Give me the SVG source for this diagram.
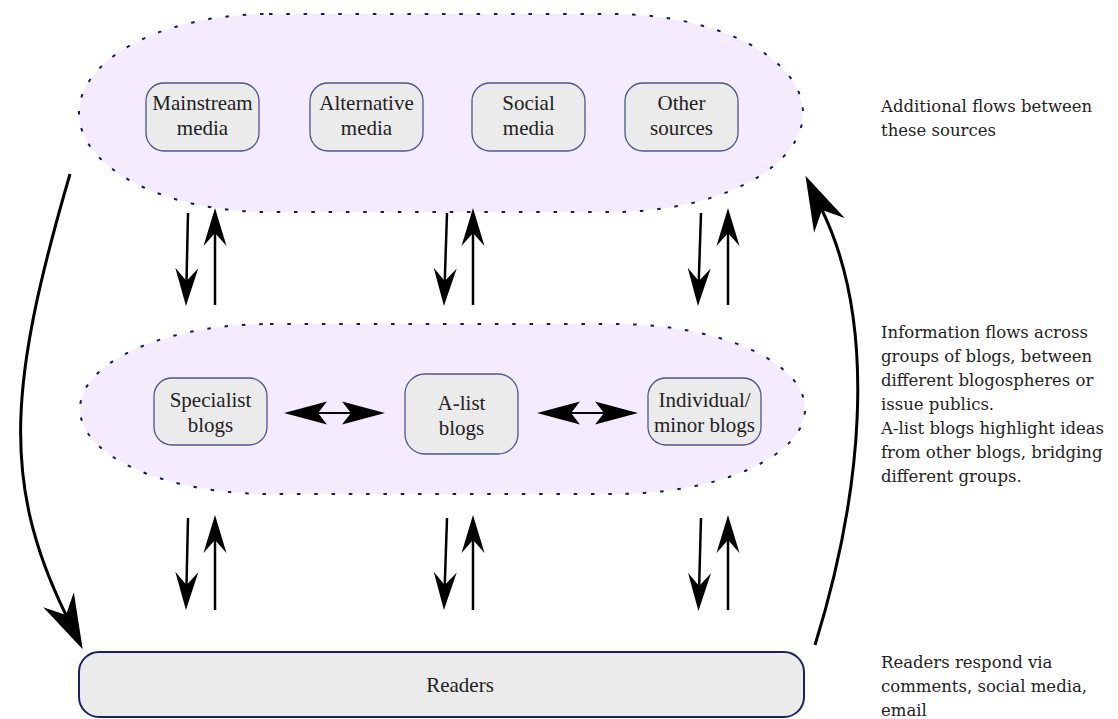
<svg xmlns="http://www.w3.org/2000/svg" width="1118" height="719" viewBox="0 0 1118 719">
<style>
.cloud{fill:#f4ecfe;stroke:#16195a;stroke-width:2;stroke-dasharray:3.5 13.8}
.node{fill:#ebebeb;stroke:#50558c;stroke-width:1.3}
.readers{fill:#ebebeb;stroke:#1c2260;stroke-width:2}
.nt{font-family:"Liberation Serif",serif;font-size:21px;fill:#222;text-anchor:middle}
.note{font-family:"DejaVu Serif",serif;font-size:16.5px;fill:#222}
.v{stroke:#000;stroke-width:2.5;fill:none}
.h{stroke:#000;stroke-width:2;fill:none}
.c{stroke:#000;stroke-width:3;fill:none}
</style>
<defs>
<marker id="mv" viewBox="-40 -13 42 26" refX="-20" refY="0" markerWidth="42" markerHeight="26" markerUnits="userSpaceOnUse" orient="auto">
<path d="M0,0 L-38,-11.5 L-25,0 L-38,11.5 Z" fill="#000"/>
</marker>
<marker id="mh" viewBox="-45 -13 47 26" refX="-30" refY="0" markerWidth="47" markerHeight="26" markerUnits="userSpaceOnUse" orient="auto-start-reverse">
<path d="M0,0 L-43,-11.5 L-34,0 L-43,11.5 Z" fill="#000"/>
</marker>
<marker id="mc" viewBox="-58 -19 60 38" refX="-38" refY="0" markerWidth="60" markerHeight="38" markerUnits="userSpaceOnUse" orient="auto">
<path d="M0,0 L-55,-17 L-38,0 L-55,17 Z" fill="#000"/>
</marker>
</defs>

<g id="sources-group"><rect class="cloud" x="79" y="14" width="724" height="198" rx="190" ry="99"/></g>
<g id="blogs-group"><rect class="cloud" x="80" y="324" width="725" height="170" rx="190" ry="85"/></g>

<g id="mainstream-media"><rect class="node" x="146" y="83" width="113" height="68" rx="18"/><text class="nt" x="202.5" y="110">Mainstream</text><text class="nt" x="202.5" y="135">media</text></g>
<g id="alternative-media"><rect class="node" x="310" y="83" width="113" height="68" rx="18"/><text class="nt" x="366.5" y="110">Alternative</text><text class="nt" x="366.5" y="135">media</text></g>
<g id="social-media"><rect class="node" x="472" y="83" width="113" height="68" rx="18"/><text class="nt" x="528.5" y="110">Social</text><text class="nt" x="528.5" y="135">media</text></g>
<g id="other-sources"><rect class="node" x="625" y="83" width="113" height="68" rx="18"/><text class="nt" x="681.5" y="110">Other</text><text class="nt" x="681.5" y="135">sources</text></g>

<g id="specialist-blogs"><rect class="node" x="154" y="378" width="113" height="67" rx="18"/><text class="nt" x="210.5" y="407">Specialist</text><text class="nt" x="210.5" y="432">blogs</text></g>
<g id="a-list-blogs"><rect class="node" x="405" y="374" width="113" height="80" rx="20"/><text class="nt" x="461.5" y="410">A-list</text><text class="nt" x="461.5" y="435">blogs</text></g>
<g id="individual-blogs"><rect class="node" x="648" y="378" width="113" height="67" rx="18"/><text class="nt" x="704.5" y="407">Individual/</text><text class="nt" x="704.5" y="432">minor blogs</text></g>

<g id="readers"><rect class="readers" x="79" y="652" width="725" height="65" rx="20"/><text class="nt" x="460" y="692">Readers</text></g>

<g id="connectors">
<path class="v" d="M188,213 L186.4,286" marker-end="url(#mv)"/>
<path class="v" d="M215,305 L215,228" marker-end="url(#mv)"/>
<path class="v" d="M447,213 L444.6,286" marker-end="url(#mv)"/>
<path class="v" d="M473,305 L473,228" marker-end="url(#mv)"/>
<path class="v" d="M701,213 L698.6,286" marker-end="url(#mv)"/>
<path class="v" d="M728,305 L728,228" marker-end="url(#mv)"/>

<path class="v" d="M188,518 L186.4,590" marker-end="url(#mv)"/>
<path class="v" d="M215,610 L215,535" marker-end="url(#mv)"/>
<path class="v" d="M447,518 L444.6,590" marker-end="url(#mv)"/>
<path class="v" d="M473,610 L473,535" marker-end="url(#mv)"/>
<path class="v" d="M701,518 L699,591" marker-end="url(#mv)"/>
<path class="v" d="M728,610 L728,535" marker-end="url(#mv)"/>

<path class="h" d="M314,413 L355,413" marker-start="url(#mh)" marker-end="url(#mh)"/>
<path class="h" d="M567,413 L608,413" marker-start="url(#mh)" marker-end="url(#mh)"/>

<path class="c" d="M70,174 C10,380 0,480 66,615" marker-end="url(#mc)"/>
<path class="c" d="M815,645 C860,500 880,330 822,210" marker-end="url(#mc)"/>
</g>

<g id="notes">
<text class="note" x="881" y="112">Additional flows between</text>
<text class="note" x="881" y="136">these sources</text>
<text class="note" x="881" y="338">Information flows across</text>
<text class="note" x="881" y="362">groups of blogs, between</text>
<text class="note" x="881" y="386">different blogospheres or</text>
<text class="note" x="881" y="410">issue publics.</text>
<text class="note" x="881" y="434">A-list blogs highlight ideas</text>
<text class="note" x="881" y="458">from other blogs, bridging</text>
<text class="note" x="881" y="482">different groups.</text>
<text class="note" x="881" y="668">Readers respond via</text>
<text class="note" x="881" y="692">comments, social media,</text>
<text class="note" x="881" y="716">email</text>
</g>
</svg>
